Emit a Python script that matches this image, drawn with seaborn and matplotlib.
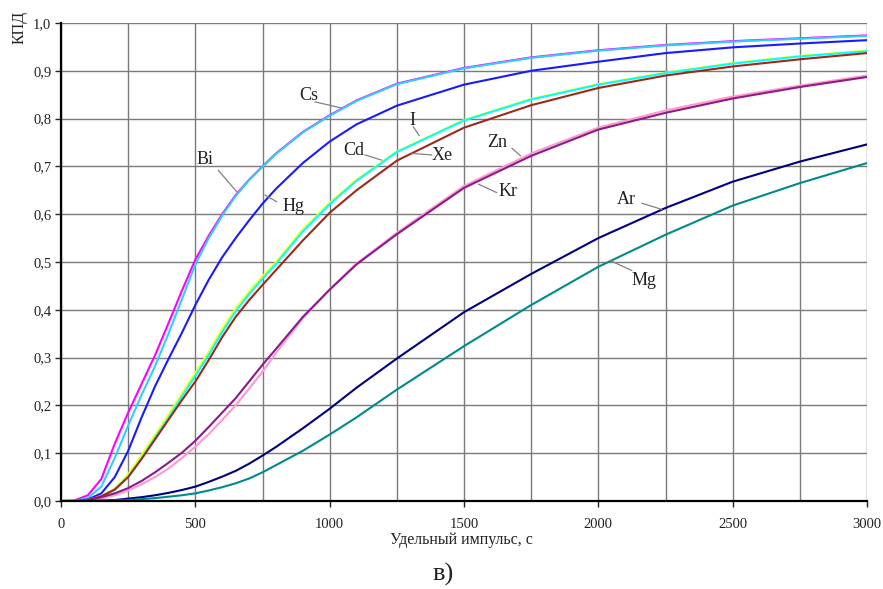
import numpy as np
import pandas as pd
import matplotlib
matplotlib.use('Agg')
import matplotlib.pyplot as plt
import seaborn as sns

# specific impulse, s
impulse = [0, 50, 100, 150, 200, 250, 300, 350, 400, 450, 500, 550, 600, 650, 700, 750,
           800, 900, 1000, 1100, 1250, 1500, 1750, 2000, 2250, 2500, 2750, 3000]

# efficiency for each propellant
eff_bi = [0, 0.001, 0.012, 0.046, 0.12, 0.185, 0.245, 0.305, 0.372, 0.44, 0.505, 0.555, 0.60, 0.64, 0.672, 0.70,
          0.727, 0.772, 0.807, 0.838, 0.873, 0.906, 0.928, 0.943, 0.954, 0.962, 0.968, 0.974]
eff_cs = [0, 0.0, 0.006, 0.03, 0.09, 0.158, 0.222, 0.282, 0.35, 0.422, 0.495, 0.55, 0.597, 0.638, 0.671, 0.699,
          0.726, 0.771, 0.806, 0.837, 0.872, 0.905, 0.927, 0.942, 0.953, 0.961, 0.967, 0.973]
eff_hg = [0, 0.0, 0.003, 0.016, 0.05, 0.105, 0.175, 0.24, 0.297, 0.352, 0.41, 0.463, 0.51, 0.55, 0.587, 0.622,
          0.653, 0.707, 0.752, 0.788, 0.827, 0.871, 0.90, 0.919, 0.937, 0.949, 0.957, 0.964]
eff_cd = [0, 0.0, 0.002, 0.01, 0.026, 0.056, 0.096, 0.138, 0.18, 0.225, 0.268, 0.312, 0.36, 0.403, 0.438, 0.47,
          0.50, 0.568, 0.624, 0.672, 0.731, 0.797, 0.841, 0.872, 0.896, 0.916, 0.931, 0.942]
eff_i = [0, 0.0, 0.001, 0.008, 0.023, 0.051, 0.09, 0.133, 0.174, 0.219, 0.262, 0.306, 0.354, 0.397, 0.433, 0.465,
         0.496, 0.564, 0.621, 0.67, 0.73, 0.796, 0.84, 0.871, 0.895, 0.915, 0.93, 0.941]
eff_xe = [0, 0.0, 0.002, 0.01, 0.024, 0.05, 0.088, 0.129, 0.17, 0.211, 0.25, 0.295, 0.343, 0.385, 0.42, 0.452,
          0.483, 0.545, 0.603, 0.65, 0.712, 0.781, 0.828, 0.864, 0.89, 0.909, 0.924, 0.937]
eff_zn = [0, 0.0, 0.001, 0.005, 0.012, 0.022, 0.035, 0.05, 0.068, 0.09, 0.114, 0.14, 0.17, 0.20, 0.235, 0.27,
          0.31, 0.382, 0.443, 0.497, 0.561, 0.659, 0.727, 0.781, 0.817, 0.846, 0.869, 0.89]
eff_kr = [0, 0.0, 0.002, 0.008, 0.016, 0.027, 0.042, 0.06, 0.08, 0.101, 0.126, 0.155, 0.185, 0.215, 0.25, 0.285,
          0.318, 0.385, 0.442, 0.495, 0.558, 0.655, 0.722, 0.777, 0.812, 0.842, 0.866, 0.887]
eff_ar = [0, 0.0, 0.0, 0.001, 0.002, 0.005, 0.008, 0.012, 0.017, 0.023, 0.03, 0.04, 0.051, 0.063, 0.078, 0.095,
          0.113, 0.152, 0.193, 0.237, 0.298, 0.395, 0.475, 0.55, 0.613, 0.668, 0.71, 0.746]
eff_mg = [0, 0.0, 0.0, 0.0, 0.001, 0.002, 0.004, 0.006, 0.009, 0.012, 0.016, 0.022, 0.029, 0.037, 0.047, 0.06,
          0.075, 0.105, 0.139, 0.175, 0.233, 0.324, 0.41, 0.49, 0.557, 0.618, 0.665, 0.707]

names = ['Bi', 'Cs', 'Hg', 'Cd', 'I', 'Xe', 'Zn', 'Kr', 'Ar', 'Mg']
series = [eff_bi, eff_cs, eff_hg, eff_cd, eff_i, eff_xe, eff_zn, eff_kr, eff_ar, eff_mg]
colors = ['#ff00ff', '#33ccff', '#1a1aff', '#ffff00', '#00ffff', '#9c2a1a',
          '#ff99cc', '#8b1a8b', '#000080', '#008b8b']

# curve labels: text position and leader line (start -> end on the curve)
label_text_pos = {'Cs': (922, 0.849), 'Bi': (535, 0.715), 'Hg': (867, 0.616), 'I': (1306, 0.795),
                  'Cd': (1089, 0.733), 'Xe': (1417, 0.722), 'Zn': (1622, 0.750), 'Kr': (1665, 0.647),
                  'Ar': (2105, 0.630), 'Mg': (2171, 0.462)}
label_leaders = {'Cs': ((945, 1045), (0.835, 0.822)), 'Bi': ((585, 654), (0.692, 0.647)),
                 'Hg': ((803, 759), (0.626, 0.640)), 'I': ((1311, 1334), (0.783, 0.764)),
                 'Cd': ((1131, 1194), (0.724, 0.713)), 'Xe': ((1380, 1305), (0.724, 0.727)),
                 'Zn': ((1678, 1711), (0.738, 0.722)), 'Kr': ((1622, 1553), (0.645, 0.663)),
                 'Ar': ((2162, 2236), (0.623, 0.610)), 'Mg': ((2125, 2044), (0.482, 0.503))}

xticks = [0, 500, 1000, 1500, 2000, 2500, 3000]
xtick_labels = ['0', '500', '1000', '1500', '2000', '2500', '3000']
yticks = [0.0, 0.1, 0.2, 0.3, 0.4, 0.5, 0.6, 0.7, 0.8, 0.9, 1.0]
ytick_labels = ['0,0', '0,1', '0,2', '0,3', '0,4', '0,5', '0,6', '0,7', '0,8', '0,9', '1,0']

sns.set_style('white')
plt.rcParams['font.family'] = ['Liberation Serif', 'DejaVu Serif']

fig = plt.figure(figsize=(8.83, 5.89), dpi=100)
ax = fig.add_axes([0.0691, 0.1494, 0.9128, 0.8116])

# grid first
ax.set_xticks(xticks)
ax.set_xticks(np.arange(250, 3000, 500), minor=True)
ax.set_yticks(yticks)
ax.grid(True, which='both', color='#7a7a7a', lw=1.0)
ax.set_axisbelow(True)

for name, vals, col in zip(names, series, colors):
    sns.lineplot(x=impulse, y=vals, color=col, lw=1.5, ax=ax, zorder=3)

for name in names:
    tx, ty = label_text_pos[name]
    lx, ly = label_leaders[name]
    ax.plot(lx, ly, color='#808080', lw=0.9, zorder=4)
    ax.text(tx, ty, name, fontsize=13, ha='center', va='center', color='#222222', zorder=5)

ax.set_xlim(0, 3000)
ax.set_ylim(0, 1.0)
ax.set_xticklabels(xtick_labels)
ax.set_yticklabels(ytick_labels)
ax.tick_params(axis='x', which='major', length=4, width=1, pad=8, labelsize=10.5, colors='#222222', bottom=True)
ax.tick_params(axis='x', which='minor', length=0)
ax.tick_params(axis='y', length=4, width=1, pad=3, labelsize=10.5, colors='#222222', left=True)
for s in ['top', 'right']:
    ax.spines[s].set_visible(False)
for s in ['left', 'bottom']:
    ax.spines[s].set_color('black')
    ax.spines[s].set_linewidth(1.6)
    ax.spines[s].set_zorder(6)
ax.set_xlabel('')
ax.set_ylabel('')

fig.text(20 / 883, 1 - 27 / 589, 'КПД', rotation=90, ha='center', va='center', fontsize=11.5, color='#222222')
fig.text(461 / 883, 1 - 540 / 589, 'Удельный импульс, с', ha='center', va='center', fontsize=11.5, color='#222222')
fig.text(443 / 883, 1 - 574 / 589, 'в)', ha='center', va='center', fontsize=19, color='#222222')

fig.savefig('out.png', dpi=100)
